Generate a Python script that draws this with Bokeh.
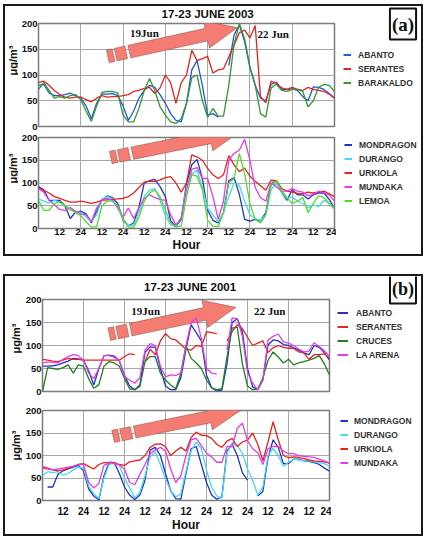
import math
import numpy as np
from bokeh.plotting import figure
from bokeh.models import (Range1d, FixedTicker, Grid, Legend, LegendItem, Label,
                          PolyAnnotation, Spacer)
from bokeh.layouts import column, row
from bokeh.embed import file_html
from bokeh.resources import INLINE

# ---------------------------------------------------------------- data
# hourly ozone, sampled every 3 h from 17 June 00h to 24 June 00h
HOURS = list(range(0, 169, 3))
nan = None

# 17-23 June 2003, coastal / Bilbao stations
ABANTO_03 = [80, 82, 65, 60, 60, 62, 65, 60,
             55, 40, 15, 45, 63, 63, 64, 60,
             40, 12, 30, 55, 70, 80, 76, 62,
             45, 25, 12, 9, 45, 110, 128, 80,
             22, 25, 18, nan, 118, 178, 197, 165,
             115, 80, 55, 50, 82, 86, 72, 72,
             73, 70, 58, 50, 77, 76, 72, 64,
             55]
SERANTES_03 = [85, 88, 80, 70, 62, 57, 55, 57,
               57, 52, 48, 55, 60, 57, 58, 58,
               60, 62, 68, 70, 74, 76, 64, 75,
               100, 85, 45, 85, 100, 148, 128, 132,
               136, 104, 110, 112, 135, 158, 182, 187,
               172, 196, 58, 46, 88, 84, 75, 72,
               76, 72, 70, 76, 72, 70, 68, 63,
               55]
BARAKALDO_03 = [72, 85, 70, 55, 58, 55, 60, 62,
                52, 30, 10, 40, 66, 68, 68, 65,
                22, 9, 9, 35, 70, 93, 70, 38,
                22, 9, 6, 15, 45, 95, 100, 50,
                18, 35, 20, 20, 80, 160, 200, 170,
                115, 80, 25, 18, 75, 82, 70, 68,
                72, 72, 68, 38, 50, 76, 82, 80,
                68]

# 17-23 June 2003, inland / upland stations
MONDRAGON_03 = [92, 85, 62, 62, 62, 50, 22, 36,
                38, 32, 12, 38, 62, 72, 68, 55,
                18, 6, 12, 46, 100, 105, 108, 92,
                70, 17, 4, 20, 100, 140, 152, 110,
                40, 18, 12, 35, 105, 112, 75, 20,
                16, 20, 17, 35, 98, 105, 80, 62,
                85, 74, 74, 65, 74, 78, 78, 64,
                44]
DURANGO_03 = [65, 60, 56, 62, 58, 50, 42, 38,
              35, 25, 15, 30, 65, 70, 65, 45,
              20, 6, 8, 35, 70, 84, 88, 62,
              28, 8, 5, 25, 90, 120, 128, 90,
              45, 30, 15, 35, 70, 100, 95, 60,
              30, 22, 18, 30, 85, 100, 80, 65,
              70, 60, 55, 45, 52, 48, 62, 55,
              45]
URKIOLA_03 = [88, 84, 78, 70, 66, 62, 58, 58,
              60, 58, 55, 58, 62, 63, 64, 65,
              66, 70, 78, 90, 102, 104, 103, 107,
              112, 114, 100, 80, 100, 162, 157, 150,
              132, 118, 110, 118, 160, 140, 125, 133,
              115, 104, 94, 84, 106, 105, 88, 82,
              80, 77, 76, 80, 78, 80, 82, 76,
              70]
MUNDAKA_03 = [88, 80, 62, 52, 42, 40, 46, 38,
              32, 30, 15, 45, 62, 66, 62, 45,
              25, 45, 22, 45, 66, 74, 68, 64,
              62, 30, 8, 22, 85, 130, 134, 110,
              110, 70, 20, 60, 150, 165, 172, 196,
              150, 90, 68, 60, 100, 92, 82, 82,
              88, 82, 80, 72, 75, 82, 78, 74,
              60]
LEMOA_03 = [62, 40, 40, 55, 58, 50, 42, 35,
            28, 15, 3, 4, 50, 60, 60, 50,
            22, 3, 3, 25, 60, 78, 85, 70,
            40, 12, 3, 5, 70, 118, 115, 85,
            18, 5, 4, 35, 100, 110, 165, 120,
            55, 20, 12, 30, 95, 105, 84, 68,
            55, 60, 68, 35, 55, 72, 68, 55,
            42]

# 17-23 June 2001, coastal / Bilbao stations
ABANTO_01 = [55, 55, 56, 58, 62, 66, 72, 71,
             68, 45, 14, 50, 78, 79, 77, 66,
             35, 12, 4, 14, 85, 97, 96, 50,
             12, 4, 4, 30, 92, 145, 128, 110,
             36, 8, 1, 3, 60, 150, 158, 130,
             50, 10, 4, 25, 101, 112, 110, 102,
             100, 95, 90, 84, 80, 100, 96, 84,
             68]
SERANTES_01 = [70, 68, 66, 65, 68, 72, 70, 70,
               68, 68, 68, 68, 68, 68, 68, 68,
               76, 82, 80, nan, 65, 92, 80, 110,
               126, 115, 112, 102, 92, 90, 100, 98,
               130, 128, 126, nan, 110, 130, 145, 137,
               118, 100, 105, 110, 85, 95, 100, 96,
               94, 94, 86, 84, 70, 80, 80, 82,
               72]
CRUCES_01 = [0, 52, 50, 48, 52, 58, 40, 58,
             55, 28, 7, 15, 55, 65, 62, 55,
             28, 6, 4, 11, 65, 76, 76, 40,
             25, 14, 6, 40, 100, 72, 62, 50,
             25, 8, 4, 6, 75, 138, 140, 60,
             12, 4, 5, 30, 68, 86, 75, 62,
             70, 58, 62, 65, 68, 72, 78, 60,
             36]
LA_ARENA_01 = [62, 64, 64, 62, 70, 76, 80, 78,
               68, 40, 28, 50, 78, 78, 74, 68,
               32, 25, 18, 30, 90, 104, 100, 55,
               32, 36, 35, 40, 100, 150, 160, 115,
               50, 40, 38, nan, 90, 160, 158, 120,
               42, 18, 4, 25, 112, 120, 125, 108,
               105, 100, 92, 86, 88, 106, 98, 88,
               76]

# 17-23 June 2001, inland / upland stations
MONDRAGON_01 = [nan, 30, 30, 58, 66, 70, 74, 78,
                66, 26, 10, 1, 55, 85, 84, 60,
                30, 12, 2, 12, 45, 112, 118, 100,
                60, 22, 4, 3, 60, 115, 120, 80,
                40, 12, 3, 8, 110, 125, 100, 62,
                45, nan, 10, 20, 95, 135, 118, 82,
                82, 92, 92, 88, 87, 84, 80, 72,
                65]
DURANGO_01 = [55, 64, 62, 64, 56, 60, 68, 74,
              72, 32, 15, 5, 50, 80, 83, 78,
              50, 28, 6, 18, 55, 97, 108, 80,
              48, 22, 8, 15, 65, 110, 130, 115,
              68, 30, 10, 5, 105, 128, 122, 105,
              70, 45, 12, 30, 100, 116, 100, 76,
              85, 92, 90, 88, 88, 86, 84, 82,
              76]
URKIOLA_01 = [75, 72, 68, 66, 68, 72, 76, 80,
              82, 76, 70, 80, 84, 84, 84, 80,
              78, 86, 88, 90, 100, 118, 125, 126,
              120, 100, 110, 118, 110, 140, 152, 145,
              144, 138, 125, 118, 132, 138, 120, 130,
              134, 150, 125, 88, 130, 175, 135, 100,
              95, 97, 96, 93, 90, 88, 87, 86,
              83]
MUNDAKA_01 = [72, 70, 68, 70, 72, 74, 76, 80,
              80, 40, 28, 38, 78, 84, 82, 79,
              70, 40, 35, 58, 80, 104, 112, 118,
              110, 70, 40, 55, 100, 135, 138, 122,
              105, 97, 85, 85, 120, 120, 160, 172,
              133, 115, 106, 80, 115, 120, 120, 110,
              104, 104, 100, 98, 97, 96, 92, 88,
              83]

X_TICKS = [12, 24, 36, 48, 60, 72, 84, 96, 108, 120, 132, 144, 156, 168]
X_TICK_LABELS = ["12", "24", "12", "24", "12", "24", "12", "24",
                 "12", "24", "12", "24", "12", "24"]
DAY_LINES = [24, 48, 72, 96, 120, 144]
Y_TICKS = [0, 50, 100, 150, 200]

# ---------------------------------------------------------------- style
SANS = "Liberation Sans"
SERIF = "Liberation Serif"
GRID = "#a8a8a8"
FRAME = "#7c7c7c"
ARROW_FILL = "#f47c72"
INK = "#111111"
NOTHING = [float("nan")]


def blank(width, height, x_range=None):
    """Axis-less strip used for titles, unit labels and keys."""
    s = figure(width=width, height=height,
               x_range=x_range if x_range is not None else Range1d(0, width),
               y_range=Range1d(0, height),
               output_backend="svg", toolbar_location=None,
               x_axis_location=None, y_axis_location=None,
               min_border_left=0, min_border_right=0,
               min_border_top=0, min_border_bottom=0)
    s.outline_line_color = None
    s.background_fill_color = "white"
    s.border_fill_color = "white"
    s.grid.visible = False
    return s


def make_fig(width, height, left, top, bottom, with_x, x_standoff=0,
             x_font="9.5px"):
    p = figure(width=width, height=height,
               x_range=Range1d(0, 168), y_range=Range1d(0, 200),
               output_backend="svg", toolbar_location=None,
               x_axis_location="below" if with_x else None,
               min_border_left=left, min_border_right=2,
               min_border_top=top, min_border_bottom=bottom)
    p.background_fill_color = "white"
    p.border_fill_color = "white"
    p.outline_line_color = FRAME
    p.outline_line_width = 1.5

    p.yaxis.ticker = FixedTicker(ticks=Y_TICKS)
    p.yaxis.major_label_text_font = SANS
    p.yaxis.major_label_text_font_style = "bold"
    p.yaxis.major_label_text_font_size = "9.5px"
    p.yaxis.major_label_text_color = INK
    p.yaxis.major_label_standoff = 1
    p.yaxis.major_tick_out = 0
    p.yaxis.major_tick_in = 0
    p.yaxis.minor_tick_line_color = None
    p.yaxis.axis_line_color = None
    p.ygrid.grid_line_color = GRID

    p.xgrid.visible = False
    p.add_layout(Grid(dimension=0, ticker=FixedTicker(ticks=DAY_LINES),
                      grid_line_color=GRID))
    if with_x:
        p.xaxis.ticker = FixedTicker(ticks=X_TICKS)
        p.xaxis.major_label_overrides = dict(zip(X_TICKS, X_TICK_LABELS))
        p.xaxis.axis_label = "Hour"
        p.xaxis.axis_label_text_font = SANS
        p.xaxis.axis_label_text_font_style = "bold"
        p.xaxis.axis_label_text_font_size = "12px"
        p.xaxis.axis_label_text_color = INK
        p.xaxis.axis_label_standoff = 0
        p.xaxis.major_label_text_font = SANS
        p.xaxis.major_label_text_font_style = "bold"
        p.xaxis.major_label_text_font_size = x_font
        p.xaxis.major_label_text_color = INK
        p.xaxis.major_label_standoff = x_standoff
        p.xaxis.major_tick_out = 0
        p.xaxis.major_tick_in = 0
        p.xaxis.minor_tick_line_color = None
        p.xaxis.axis_line_color = None
    return p


def add_arrow(p, fw, fh, tail, tip):
    """Broken-tail block arrow, shaped in pixels and placed in data units."""
    sx, sy = fw / 168.0, fh / 200.0
    x0, y0 = tail[0] * sx, tail[1] * sy
    x1, y1 = tip[0] * sx, tip[1] * sy
    length = math.hypot(x1 - x0, y1 - y0)
    ux, uy = (x1 - x0) / length, (y1 - y0) / length
    nx, ny = -uy, ux

    def pt(a, b):
        return ((x0 + a * ux + b * nx) / sx, (y0 + a * uy + b * ny) / sy)

    w, hw, hl = 6.5, 14.0, 32.0
    shapes = [
        [pt(0, -w), pt(6, -w), pt(6, w), pt(0, w)],
        [pt(8, -w), pt(19, -w), pt(19, w), pt(8, w)],
        [pt(22, -w), pt(length - hl, -w), pt(length - hl, -hw), pt(length, 0),
         pt(length - hl, hw), pt(length - hl, w), pt(22, w)],
    ]
    for s in shapes:
        p.add_layout(PolyAnnotation(xs=[q[0] for q in s], ys=[q[1] for q in s],
                                    fill_color=ARROW_FILL, fill_alpha=1.0,
                                    line_color="#2a2a2a", line_width=1,
                                    level="underlay"))


def add_lines(p, key, series, loc, glyph_w=8, standoff=7):
    items = []
    for name, vals, color in series:
        y = np.array(vals, dtype=float)
        p.line(HOURS, y, line_color=color, line_width=1.3)
        swatch = key.line(NOTHING, NOTHING, line_color=color, line_width=2)
        items.append(LegendItem(label=name, renderers=[swatch]))
    key.add_layout(Legend(items=items, location=loc, orientation="vertical",
                          label_text_font=SANS, label_text_font_style="bold",
                          label_text_font_size="8.5px", label_text_color="#333",
                          glyph_width=glyph_w, glyph_height=11, label_height=11,
                          label_standoff=standoff, spacing=3, padding=0, margin=0,
                          border_line_color=None, background_fill_alpha=0))


def add_text(p, x, y, text, size="11px", font=SERIF, align="left", angle=0.0):
    p.add_layout(Label(x=x, y=y, text=text, text_font=font,
                       text_font_style="bold", text_font_size=size,
                       text_color=INK, text_align=align, angle=angle,
                       text_baseline="middle"))


def add_tag(key, x, y, text, size="19px"):
    key.add_layout(Label(x=x, y=y, text=text, text_font=SERIF,
                         text_font_style="bold", text_font_size=size,
                         text_color=INK, text_align="center",
                         text_baseline="middle", padding=(2, 5),
                         border_line_color=INK, border_line_width=2,
                         background_fill_color="white"))


BLUE = "#2457e0"
RED = "#e8231f"
GREEN = "#2f9a2f"
DKBLUE = "#2233c8"
CYAN = "#46d9f2"
MAGENTA = "#e23de6"
LIME = "#4fdc2c"
DKGREEN = "#1f7f22"
UNIT = "μg/m³"
UP = math.pi / 2

# ---------------------------------------------------------------- panel (a)
ylab_a = blank(13, 248)
add_text(ylab_a, 7.5, 194, UNIT, font=SANS, align="center", angle=UP)
add_text(ylab_a, 7.5, 86, UNIT, font=SANS, align="center", angle=UP)

# the title strip shares the hour scale of the plots beneath it
title_a = blank(318, 12, x_range=Range1d(0, 168))
add_text(title_a, 96, 5, "17-23 JUNE 2003", size="11.5px", font=SANS,
         align="center")

a1 = make_fig(318, 113, 20, 5, 5, False)
a2 = make_fig(318, 123, 20, 6, 24, True, x_standoff=0, x_font="9.5px")
key_a = blank(85, 248)

add_arrow(a1, 296, 103, (39.3, 136), (113, 192))
add_lines(a1, key_a, [("ABANTO", ABANTO_03, BLUE),
                      ("SERANTES", SERANTES_03, RED),
                      ("BARAKALDO", BARAKALDO_03, GREEN)], (7, 166))
add_text(a1, 52, 182, "19Jun")
add_text(a1, 124.3, 180, "22 Jun")
add_tag(key_a, 66.5, 230.5, "(a)")

add_arrow(a2, 296, 93, (41, 156), (115, 214))
add_lines(a2, key_a, [("MONDRAGON", MONDRAGON_03, DKBLUE),
                      ("DURANGO", DURANGO_03, CYAN),
                      ("URKIOLA", URKIOLA_03, RED),
                      ("MUNDAKA", MUNDAKA_03, MAGENTA),
                      ("LEMOA", LEMOA_03, LIME)], (8, 48))

# ---------------------------------------------------------------- panel (b)
ylab_b = blank(17, 258)
add_text(ylab_b, 10.5, 196, UNIT, font=SANS, align="center", angle=UP)
add_text(ylab_b, 10.5, 89, UNIT, font=SANS, align="center", angle=UP)

title_b = blank(309, 16, x_range=Range1d(0, 168))
add_text(title_b, 86.4, 6, "17-23 JUNE 2001", size="11.5px", font=SANS,
         align="center")

b1 = make_fig(309, 108, 20, 7, 9, False)
b2 = make_fig(309, 134, 20, 10, 30, True, x_standoff=6, x_font="10px")
key_b = blank(90, 258)

add_arrow(b1, 287, 92, (39, 124.5), (113.3, 183))
add_lines(b1, key_b, [("ABANTO", ABANTO_01, DKBLUE),
                      ("SERANTES", SERANTES_01, RED),
                      ("CRUCES", CRUCES_01, DKGREEN),
                      ("LA ARENA", LA_ARENA_01, MAGENTA)], (6, 174),
          glyph_w=11, standoff=8)
add_text(b1, 52, 176, "19Jun")
add_text(b1, 123.8, 176, "22 Jun")
add_tag(key_b, 71.5, 246, "(b)", size="18px")

add_arrow(b2, 287, 94, (41.3, 142.5), (116, 200))
add_lines(b2, key_b, [("MONDRAGON", MONDRAGON_01, DKBLUE),
                      ("DURANGO", DURANGO_01, CYAN),
                      ("URKIOLA", URKIOLA_01, RED),
                      ("MUNDAKA", MUNDAKA_01, MAGENTA)], (9, 66),
          glyph_w=8, standoff=6)

box = {"border": "2px solid #1a1a1a"}
panel_a = row(ylab_a, column(title_a, a1, a2, spacing=0), key_a,
              spacing=0, styles=box)
panel_b = row(ylab_b, column(title_b, b1, b2, spacing=0), key_b,
              spacing=0, styles=box)

layout = column(Spacer(height=4),
                row(Spacer(width=3),
                    column(panel_a, Spacer(height=18), panel_b, spacing=0),
                    spacing=0),
                spacing=0)

open("out.html", "w").write(file_html(layout, INLINE))
